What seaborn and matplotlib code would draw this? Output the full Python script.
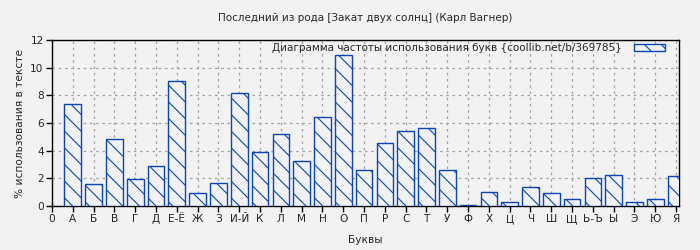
import matplotlib
matplotlib.use("Agg")
import matplotlib.pyplot as plt
import seaborn as sns
import pandas as pd

title = "Последний из рода [Закат двух солнц] (Карл Вагнер)"
legend_label = "Диаграмма частоты использования букв {coollib.net/b/369785}"
tick_labels = ["0", "А", "Б", "В", "Г", "Д", "Е-Ё", "Ж", "З", "И-Й", "К", "Л", "М", "Н", "О",
               "П", "Р", "С", "Т", "У", "Ф", "Х", "Ц", "Ч", "Ш", "Щ", "Ь-Ъ", "Ы", "Э", "Ю", "Я"]
letters = tick_labels[1:]
values = [7.35, 1.57, 4.82, 1.93, 2.87, 9.02, 0.92, 1.64, 8.15, 3.88, 5.18, 3.23, 6.41, 10.9,
          2.58, 4.53, 5.40, 5.62, 2.58, 0.07, 0.99, 0.27, 1.35, 0.92, 0.48, 2.0, 2.22, 0.27,
          0.48, 2.15]

df = pd.DataFrame({"letter": letters, "pct": values})

sns.set_theme(style="white")
plt.rcParams["font.family"] = ["DejaVu Sans"]
plt.rcParams["hatch.color"] = "#0a47b4"
plt.rcParams["hatch.linewidth"] = 0.8

bg = "#f2f2f2"
blue = "#0a47b4"

fig = plt.figure(figsize=(7, 2.5), dpi=100, facecolor=bg)
ax = fig.add_axes([52 / 700, 1 - 206 / 250, (679 - 52) / 700, (206 - 40) / 250])
ax.set_facecolor(bg)

sns.barplot(data=df, x="letter", y="pct", order=tick_labels, ax=ax, width=0.8,
            color=bg, edgecolor=blue, linewidth=1.0, hatch="\\\\", label=legend_label,
            zorder=3, errorbar=None)
for p in ax.patches:
    p.set_facecolor(bg)
    p.set_edgecolor(blue)

ax.set_xlim(0, 30.14)
ax.set_ylim(0, 12)
ax.set_yticks([0, 2, 4, 6, 8, 10, 12])
ax.set_xticks(range(len(tick_labels)))
ax.set_xticklabels(tick_labels)
ax.tick_params(axis="both", labelsize=7.6, length=4, width=1, color="black", pad=2,
               direction="out", bottom=True, left=True)
ax.grid(True, color="#a0a0a0", linestyle=(0, (2, 3)), linewidth=0.9, zorder=0)
ax.set_axisbelow(True)
for s in ax.spines.values():
    s.set_color("black")
    s.set_linewidth(1.0)

ax.set_title(title, fontsize=7.5, pad=14)
ax.set_xlabel("Буквы", fontsize=7.6, labelpad=8)
ax.set_ylabel("% использования в тексте", fontsize=7.6, labelpad=4)

leg = ax.legend(loc="upper right", frameon=False, fontsize=7.5, markerfirst=False,
                handlelength=3.0, handleheight=0.7, borderaxespad=0.0, handletextpad=1.2,
                bbox_to_anchor=(0.985, 1.005))

fig.savefig("out.png", dpi=100, facecolor=bg)
